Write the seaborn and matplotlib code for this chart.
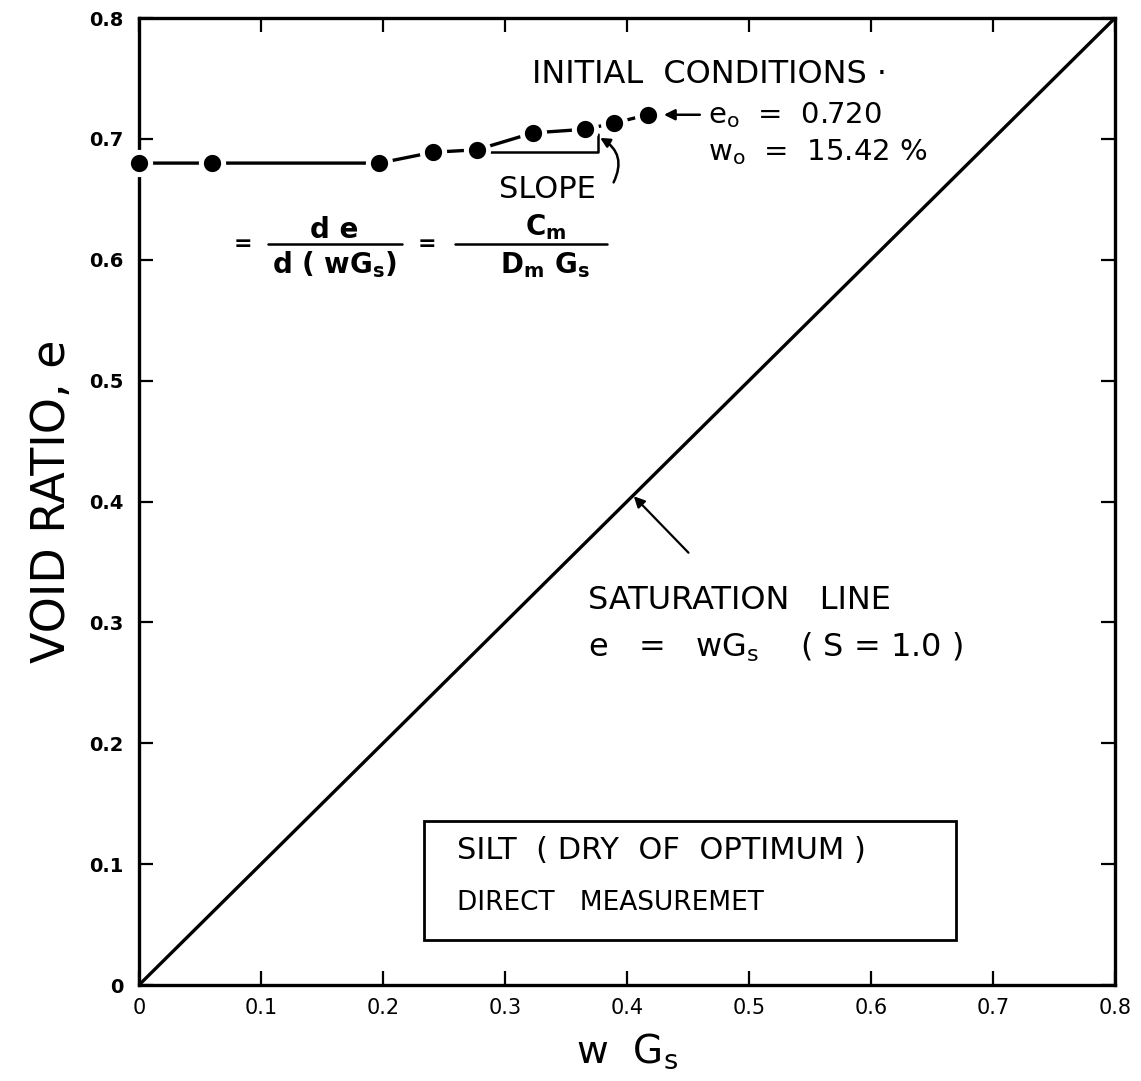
import numpy as np
import pandas as pd
import matplotlib
matplotlib.use("Agg")
import matplotlib.pyplot as plt
import seaborn as sns
from matplotlib.patches import Rectangle

# measured points (silt, dry of optimum)
wgs = [0.0, 0.060, 0.197, 0.241, 0.277, 0.323, 0.366, 0.389, 0.417]
void_ratio = [0.680, 0.680, 0.680, 0.689, 0.691, 0.705, 0.708, 0.713, 0.720]

# saturation line e = wGs
sat_x = [0.0, 0.8]
sat_y = [0.0, 0.8]

# slope construction
slope_x = [0.288, 0.376, 0.376]
slope_y = [0.689, 0.689, 0.704]

ticks = [0, 0.1, 0.2, 0.3, 0.4, 0.5, 0.6, 0.7, 0.8]
x_ticklabels = ["0", "0.1", "0.2", "0.3", "0.4", "0.5", "0.6", "0.7", "0.8"]
y_ticklabels = ["0", "0.1", "0.2", "0.3", "0.4", "0.5", "0.6", "0.7", "0.8"]

sns.set_style("ticks")
plt.rcParams['font.family'] = ['DejaVu Sans']
plt.rcParams['text.color'] = 'black'
plt.rcParams['axes.labelcolor'] = 'black'

fig = plt.figure(figsize=(11.41, 10.81), dpi=100)
ax = fig.add_axes([0.1218, 0.0888, 0.8554, 0.8945])

df = pd.DataFrame({"wGs": wgs, "e": void_ratio})
sns.lineplot(data=df, x="wGs", y="e", sort=False, ax=ax, color="black", lw=2.4,
             marker="o", markersize=16, markerfacecolor="black",
             markeredgecolor="white", markeredgewidth=3.6, clip_on=False, zorder=5)
sns.lineplot(x=sat_x, y=sat_y, ax=ax, color="black", lw=2.4, zorder=3)
ax.plot(slope_x, slope_y, color="black", lw=1.8)

ax.set_xlim(0, 0.8)
ax.set_ylim(0, 0.8)
ax.set_xticks(ticks)
ax.set_yticks(ticks)
ax.set_xticklabels(x_ticklabels, fontsize=15)
ax.set_yticklabels(y_ticklabels, fontsize=14, fontweight="bold")
ax.tick_params(direction="in", length=10, width=1.6, top=True, right=True, colors="black")
ax.tick_params(axis="x", pad=9)
ax.tick_params(axis="y", pad=11)
for s in ax.spines.values():
    s.set_linewidth(2.4)
    s.set_color("black")

ax.set_xlabel(r"w  G$_\mathregular{s}$", fontsize=28, labelpad=10)
ax.set_ylabel("VOID RATIO, e", fontsize=33, labelpad=10)

# initial conditions
ax.text(0.322, 0.753, "INITIAL  CONDITIONS ·", fontsize=23, va="center", ha="left")
ax.text(0.466, 0.720, r"e$_\mathregular{o}$  =  0.720", fontsize=21, va="center", ha="left")
ax.text(0.466, 0.689, r"w$_\mathregular{o}$  =  15.42 %", fontsize=21, va="center", ha="left")
ax.annotate("", xy=(0.428, 0.720), xytext=(0.462, 0.720),
            arrowprops=dict(arrowstyle="-|>", color="black", lw=1.8, mutation_scale=16))

# slope annotation
ax.text(0.335, 0.658, "SLOPE", fontsize=22, va="center", ha="center")
ax.annotate("", xy=(0.376, 0.702), xytext=(0.388, 0.662),
            arrowprops=dict(arrowstyle="-|>", color="black", lw=1.8, mutation_scale=14,
                            connectionstyle="arc3,rad=0.5"))

ax.text(0.085, 0.613, "=", fontsize=16, fontweight="bold", va="center", ha="center")
ax.text(0.160, 0.625, "d e", fontsize=20, fontweight="bold", va="center", ha="center")
ax.plot([0.106, 0.216], [0.613, 0.613], color="black", lw=1.8)
ax.text(0.160, 0.596, r"d ( wG$_\mathregular{s}$)", fontsize=20, fontweight="bold",
        va="center", ha="center")
ax.text(0.236, 0.613, "=", fontsize=16, fontweight="bold", va="center", ha="center")
ax.text(0.333, 0.627, r"C$_\mathregular{m}$", fontsize=20, fontweight="bold",
        va="center", ha="center")
ax.plot([0.259, 0.384], [0.613, 0.613], color="black", lw=1.8)
ax.text(0.333, 0.596, r"D$_\mathregular{m}$ G$_\mathregular{s}$", fontsize=20,
        fontweight="bold", va="center", ha="center")

# saturation line label
ax.text(0.368, 0.318, "SATURATION   LINE", fontsize=23, va="center", ha="left")
ax.text(0.368, 0.279, r"e   =   wG$_\mathregular{s}$    ( S = 1.0 )", fontsize=23,
        va="center", ha="left")
ax.annotate("", xy=(0.404, 0.406), xytext=(0.452, 0.356),
            arrowprops=dict(arrowstyle="-|>", color="black", lw=1.6, mutation_scale=16))

# legend box
ax.add_patch(Rectangle((0.234, 0.037), 0.436, 0.099, fill=False, lw=2.0,
                       edgecolor="black", zorder=4))
ax.text(0.261, 0.111, "SILT  ( DRY  OF  OPTIMUM )", fontsize=22, va="center", ha="left")
ax.text(0.261, 0.068, "DIRECT   MEASUREMET", fontsize=19, va="center", ha="left")

fig.savefig("out.png", dpi=100, facecolor="white")
